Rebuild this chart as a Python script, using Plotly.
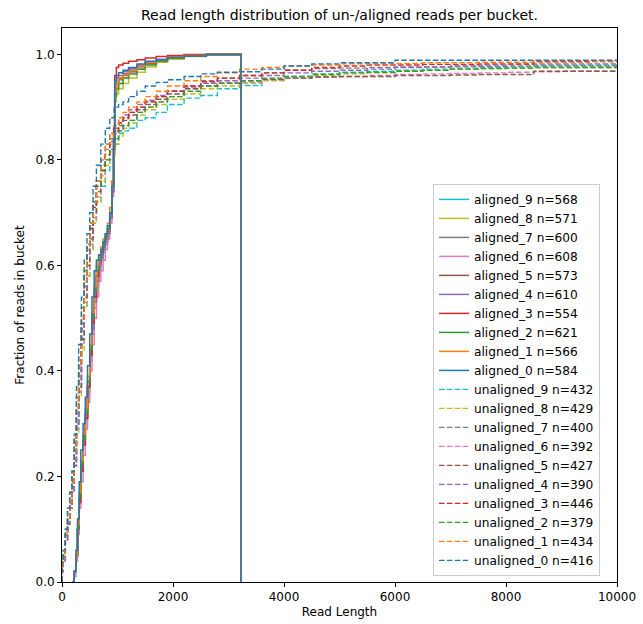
import plotly.graph_objects as go

TITLE = "Read length distribution of un-/aligned reads per bucket."
X_LABEL = "Read Length"
Y_LABEL = "Fraction of reads in bucket"

COLORS = ["#1f77b4", "#ff7f0e", "#2ca02c", "#d62728", "#9467bd",
          "#8c564b", "#e377c2", "#7f7f7f", "#bcbd22", "#17becf"]

ALIGNED_N = [584, 566, 621, 554, 610, 573, 608, 600, 571, 568]
UNALIGNED_N = [416, 434, 379, 446, 390, 427, 392, 400, 429, 432]

X_TICKS = [0, 2000, 4000, 6000, 8000, 10000]
Y_TICKS = [0.0, 0.2, 0.4, 0.6, 0.8, 1.0]

# bin edges (read length) for aligned buckets
A_X = [180, 220, 250, 280, 310, 340, 380, 420, 460, 500, 540, 580, 620, 660, 700,
       740, 780, 820, 860, 900, 930, 950, 980, 1020, 1100, 1200, 1350, 1500, 1700,
       1900, 2200, 2600, 3225]

A0 = [0, 0.02, 0.06, 0.12, 0.19, 0.25, 0.30, 0.35, 0.41, 0.47, 0.54, 0.59, 0.61, 0.62, 0.63,
      0.645, 0.66, 0.675, 0.70, 0.75, 0.84, 0.95, 0.96, 0.965, 0.97, 0.975, 0.982, 0.987,
      0.99, 0.994, 0.997, 1.0, 1.0]
A1 = [0, 0.02, 0.05, 0.11, 0.17, 0.23, 0.28, 0.33, 0.39, 0.45, 0.51, 0.56, 0.60, 0.62, 0.635,
      0.65, 0.66, 0.68, 0.71, 0.76, 0.85, 0.93, 0.945, 0.955, 0.962, 0.97, 0.978, 0.985,
      0.99, 0.995, 0.998, 1.0, 1.0]
A2 = [0, 0.02, 0.05, 0.10, 0.16, 0.22, 0.27, 0.32, 0.38, 0.44, 0.50, 0.55, 0.59, 0.61, 0.625,
      0.64, 0.655, 0.67, 0.70, 0.75, 0.83, 0.92, 0.935, 0.945, 0.955, 0.963, 0.972, 0.98,
      0.987, 0.993, 0.997, 1.0, 1.0]
A3 = [0, 0.02, 0.05, 0.10, 0.15, 0.21, 0.26, 0.31, 0.37, 0.43, 0.49, 0.54, 0.58, 0.61, 0.625,
      0.64, 0.655, 0.67, 0.70, 0.76, 0.86, 0.96, 0.975, 0.98, 0.983, 0.987, 0.99, 0.993,
      0.996, 0.998, 1.0, 1.0, 1.0]
A4 = [0, 0.02, 0.05, 0.10, 0.16, 0.21, 0.26, 0.31, 0.37, 0.43, 0.48, 0.53, 0.57, 0.60, 0.615,
      0.63, 0.645, 0.66, 0.69, 0.74, 0.83, 0.94, 0.955, 0.96, 0.967, 0.973, 0.98, 0.986,
      0.991, 0.995, 0.998, 1.0, 1.0]
A5 = [0, 0.02, 0.05, 0.10, 0.16, 0.22, 0.27, 0.32, 0.37, 0.43, 0.49, 0.54, 0.58, 0.605, 0.62,
      0.635, 0.65, 0.665, 0.69, 0.74, 0.82, 0.93, 0.945, 0.955, 0.963, 0.97, 0.978, 0.984,
      0.99, 0.994, 0.997, 1.0, 1.0]
A6 = [0, 0.01, 0.04, 0.09, 0.14, 0.19, 0.24, 0.29, 0.34, 0.40, 0.45, 0.50, 0.54, 0.57, 0.59,
      0.61, 0.63, 0.65, 0.68, 0.73, 0.81, 0.92, 0.935, 0.945, 0.955, 0.965, 0.974, 0.981,
      0.988, 0.993, 0.997, 1.0, 1.0]
A7 = [0, 0.02, 0.05, 0.10, 0.16, 0.21, 0.26, 0.31, 0.36, 0.42, 0.47, 0.52, 0.56, 0.59, 0.61,
      0.625, 0.64, 0.66, 0.69, 0.74, 0.82, 0.93, 0.945, 0.952, 0.96, 0.968, 0.976, 0.983,
      0.989, 0.994, 0.997, 1.0, 1.0]
A8 = [0, 0.02, 0.05, 0.10, 0.16, 0.21, 0.26, 0.31, 0.37, 0.43, 0.48, 0.53, 0.57, 0.60, 0.62,
      0.635, 0.65, 0.665, 0.69, 0.74, 0.81, 0.91, 0.925, 0.935, 0.945, 0.955, 0.966, 0.976,
      0.985, 0.991, 0.996, 1.0, 1.0]
A9 = [0, 0.02, 0.05, 0.10, 0.16, 0.22, 0.27, 0.32, 0.38, 0.44, 0.50, 0.55, 0.59, 0.615, 0.63,
      0.645, 0.66, 0.675, 0.70, 0.75, 0.83, 0.93, 0.945, 0.955, 0.963, 0.97, 0.978, 0.985,
      0.99, 0.995, 0.998, 1.0, 1.0]

# bin edges (read length) for unaligned buckets
U_X = [0, 20, 60, 100, 140, 180, 220, 260, 300, 350, 400, 450, 500, 560, 620, 700, 780,
       860, 940, 1020, 1100, 1200, 1350, 1500, 1700, 1900, 2200, 2500, 2800, 3200, 3600,
       4000, 4500, 5000, 5500, 6000, 6500, 7000, 7500, 8000, 8500, 9000, 9500, 10000, 10500]

U0 = [0.04, 0.06, 0.10, 0.14, 0.17, 0.21, 0.28, 0.37, 0.45, 0.54, 0.61, 0.66, 0.70, 0.75,
      0.79, 0.83, 0.86, 0.88, 0.90, 0.905, 0.91, 0.92, 0.93, 0.94, 0.947, 0.952, 0.958,
      0.963, 0.966, 0.967, 0.972, 0.978, 0.982, 0.984, 0.984, 0.989, 0.989, 0.989, 0.989,
      0.989, 0.989, 0.989, 0.989, 0.989, 0.989]
U1 = [0.03, 0.05, 0.09, 0.12, 0.15, 0.19, 0.25, 0.33, 0.41, 0.50, 0.57, 0.63, 0.68, 0.72,
      0.76, 0.80, 0.83, 0.85, 0.865, 0.88, 0.89, 0.90, 0.91, 0.92, 0.93, 0.94, 0.95, 0.958,
      0.965, 0.972, 0.975, 0.978, 0.98, 0.982, 0.982, 0.983, 0.984, 0.984, 0.985, 0.985,
      0.985, 0.985, 0.986, 0.986, 0.986]
U2 = [0.04, 0.06, 0.10, 0.14, 0.17, 0.21, 0.27, 0.35, 0.43, 0.52, 0.59, 0.64, 0.68, 0.72,
      0.75, 0.78, 0.80, 0.82, 0.84, 0.855, 0.865, 0.875, 0.89, 0.90, 0.91, 0.92, 0.93, 0.94,
      0.945, 0.95, 0.955, 0.958, 0.962, 0.965, 0.966, 0.968, 0.97, 0.972, 0.973, 0.974,
      0.975, 0.975, 0.975, 0.975, 0.975]
U3 = [0.03, 0.05, 0.09, 0.12, 0.15, 0.19, 0.25, 0.33, 0.41, 0.50, 0.58, 0.63, 0.67, 0.71,
      0.75, 0.78, 0.81, 0.835, 0.855, 0.87, 0.88, 0.89, 0.90, 0.91, 0.92, 0.93, 0.94, 0.948,
      0.955, 0.96, 0.965, 0.97, 0.975, 0.978, 0.98, 0.98, 0.981, 0.981, 0.982, 0.982,
      0.987, 0.987, 0.987, 0.987, 0.987]
U4 = [0.02, 0.04, 0.08, 0.11, 0.14, 0.17, 0.22, 0.30, 0.38, 0.48, 0.56, 0.62, 0.67, 0.72,
      0.76, 0.80, 0.83, 0.85, 0.865, 0.875, 0.885, 0.895, 0.905, 0.913, 0.922, 0.93, 0.938,
      0.945, 0.95, 0.955, 0.96, 0.965, 0.968, 0.97, 0.972, 0.975, 0.976, 0.978, 0.98, 0.981,
      0.982, 0.982, 0.982, 0.982, 0.982]
U5 = [0.02, 0.04, 0.08, 0.11, 0.14, 0.18, 0.23, 0.30, 0.37, 0.46, 0.54, 0.60, 0.65, 0.70,
      0.74, 0.78, 0.81, 0.83, 0.85, 0.865, 0.875, 0.885, 0.895, 0.905, 0.915, 0.925, 0.935,
      0.94, 0.945, 0.95, 0.953, 0.955, 0.957, 0.958, 0.958, 0.96, 0.96, 0.961, 0.962, 0.962,
      0.968, 0.968, 0.968, 0.968, 0.968]
U6 = [0.02, 0.04, 0.08, 0.11, 0.14, 0.17, 0.22, 0.29, 0.36, 0.45, 0.53, 0.59, 0.64, 0.69,
      0.73, 0.77, 0.80, 0.82, 0.84, 0.855, 0.865, 0.875, 0.89, 0.90, 0.91, 0.92, 0.935,
      0.945, 0.947, 0.947, 0.952, 0.955, 0.957, 0.958, 0.96, 0.962, 0.963, 0.964, 0.965,
      0.966, 0.967, 0.968, 0.968, 0.968, 0.968]
U7 = [0.03, 0.05, 0.09, 0.12, 0.15, 0.19, 0.24, 0.32, 0.40, 0.49, 0.56, 0.62, 0.67, 0.71,
      0.75, 0.79, 0.82, 0.84, 0.86, 0.87, 0.88, 0.89, 0.90, 0.91, 0.92, 0.93, 0.94, 0.95,
      0.955, 0.96, 0.965, 0.97, 0.973, 0.974, 0.975, 0.976, 0.976, 0.977, 0.977, 0.978,
      0.978, 0.978, 0.978, 0.978, 0.978]
U8 = [0.03, 0.05, 0.09, 0.12, 0.15, 0.18, 0.22, 0.28, 0.35, 0.44, 0.52, 0.58, 0.63, 0.68,
      0.72, 0.76, 0.79, 0.815, 0.83, 0.845, 0.86, 0.87, 0.885, 0.895, 0.905, 0.915, 0.925,
      0.935, 0.94, 0.945, 0.95, 0.955, 0.96, 0.963, 0.965, 0.968, 0.97, 0.972, 0.973,
      0.974, 0.975, 0.975, 0.975, 0.975, 0.975]
U9 = [0.02, 0.04, 0.08, 0.11, 0.14, 0.17, 0.22, 0.29, 0.36, 0.45, 0.52, 0.58, 0.63, 0.68,
      0.72, 0.75, 0.78, 0.80, 0.83, 0.85, 0.855, 0.86, 0.875, 0.88, 0.89, 0.905, 0.917,
      0.922, 0.935, 0.941, 0.951, 0.958, 0.963, 0.966, 0.968, 0.97, 0.972, 0.974, 0.975,
      0.976, 0.98, 0.98, 0.98, 0.98, 0.98]

ALIGNED = [A0, A1, A2, A3, A4, A5, A6, A7, A8, A9]
UNALIGNED = [U0, U1, U2, U3, U4, U5, U6, U7, U8, U9]

FONT = "DejaVu Sans, Liberation Sans, sans-serif"

fig = go.Figure()

# unaligned (dashed) first, aligned on top; aligned_0 drawn last
for i in reversed(range(10)):
    xs = [U_X[0]] + U_X
    ys = [0] + UNALIGNED[i]
    fig.add_trace(go.Scatter(
        x=xs, y=ys, mode="lines", line_shape="hv",
        line=dict(color=COLORS[i], width=1.4, dash="5.5px,2.4px"),
        name=f"unaligned_{i} n={UNALIGNED_N[i]}",
        legendrank=10 + (10 - i),
    ))
for i in reversed(range(10)):
    xs = A_X + [A_X[-1]]
    ys = ALIGNED[i] + [0]
    fig.add_trace(go.Scatter(
        x=xs, y=ys, mode="lines", line_shape="hv",
        line=dict(color=COLORS[i], width=1.5),
        name=f"aligned_{i} n={ALIGNED_N[i]}",
        legendrank=(10 - i),
    ))

fig.update_layout(
    width=643, height=624,
    margin=dict(l=62, r=26, t=28, b=42, autoexpand=False),
    paper_bgcolor="white", plot_bgcolor="white",
    font=dict(family=FONT, size=12, color="black"),
    title=dict(text=TITLE, x=(62 + 617) / 2 / 643, xanchor="center",
               y=1 - 15 / 624, yanchor="middle",
               font=dict(size=14, color="black")),
    showlegend=True,
    legend=dict(
        x=(433 - 62) / 555, xanchor="left", y=0.011, yanchor="bottom",
        bgcolor="rgba(255,255,255,0.8)", bordercolor="#cccccc", borderwidth=1,
        font=dict(size=12.2), traceorder="normal", tracegroupgap=0,
        itemwidth=30,
    ),
)
fig.update_xaxes(
    range=[0, 10000], tickvals=X_TICKS, ticktext=[str(v) for v in X_TICKS],
    showgrid=False, zeroline=False, showline=True, linecolor="black", linewidth=1,
    mirror=True, ticks="outside", ticklen=4, tickcolor="black", automargin=False,
    title=dict(text=X_LABEL, standoff=4, font=dict(size=12)),
)
fig.update_yaxes(
    range=[0, 1.05], tickvals=Y_TICKS, ticktext=[f"{v:.1f}" for v in Y_TICKS],
    showgrid=False, zeroline=False, showline=True, linecolor="black", linewidth=1,
    mirror=True, ticks="outside", ticklen=4, tickcolor="black", automargin=False,
    title=dict(text=Y_LABEL, standoff=8, font=dict(size=12)),
)

fig.write_html(
    "out.html",
    config={"displayModeBar": False},
    post_script="document.body.style.margin='0';document.body.style.padding='0';",
)
